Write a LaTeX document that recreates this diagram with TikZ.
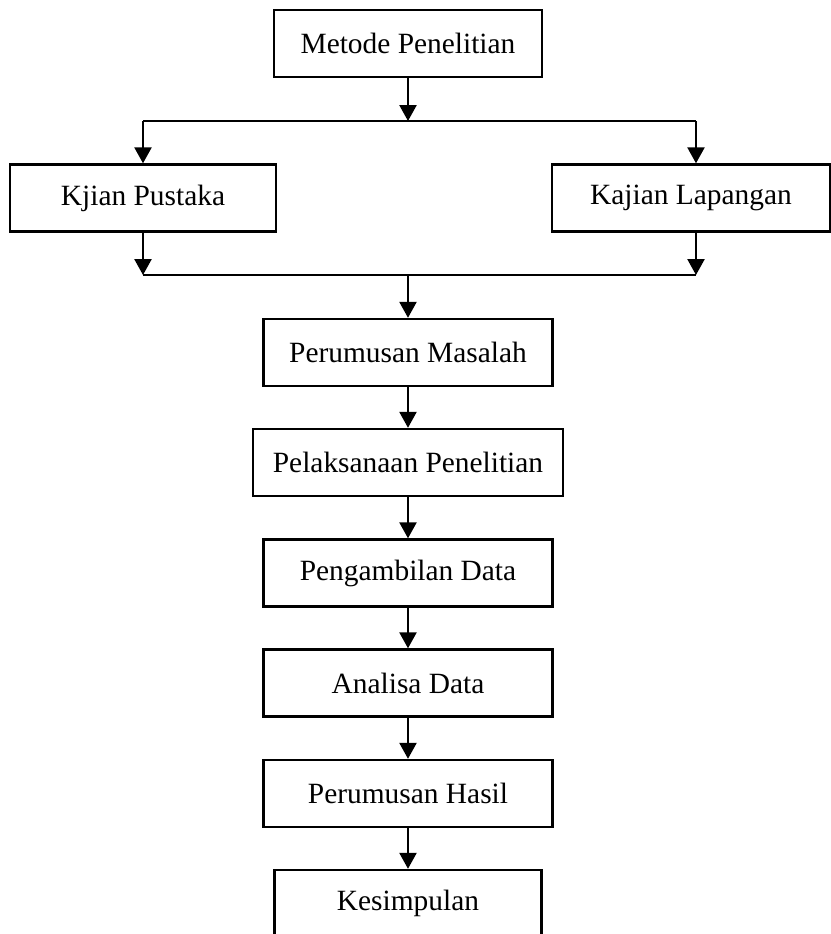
\documentclass[tikz,border=0pt]{standalone}
\usepackage{fontspec}
\setmainfont{Liberation Serif}
\usetikzlibrary{arrows.meta}
\tikzset{
	box/.style={draw, line width=1.2pt, minimum height=33.5pt, inner sep=0pt, font=\fontsize{14.7}{17}\selectfont},
	arr/.style={-{Triangle[length=8pt,width=8.5pt]}, line width=1.2pt}
}
\begin{document}
\begin{tikzpicture}[x=0.5pt,y=-0.5pt]
	\useasboundingbox (0,0) rectangle (831,934);
	\clip (0,0) rectangle (831,934);
	\node[box, minimum width=134pt] (metode) at (408,43.5) {Metode Penelitian};
	\node[box, minimum width=133pt] (kjian) at (143,198) {Kjian Pustaka};
	\node[box, minimum width=139pt] (kajian) at (691,198) {Kajian Lapangan};
	\node[box, minimum width=144.5pt] (masalah) at (408,352.5) {Perumusan Masalah};
	\node[box, minimum width=155pt] (pelaksanaan) at (408,462.5) {Pelaksanaan Penelitian};
	\node[box, minimum width=144.5pt] (pengambilan) at (408,573) {Pengambilan Data};
	\node[box, minimum width=144.5pt] (analisa) at (408,683) {Analisa Data};
	\node[box, minimum width=144.5pt] (hasil) at (408,793.5) {Perumusan Hasil};
	\node[box, minimum width=133.5pt] (kesimpulan) at (408,903.5) {Kesimpulan};
	% percabangan atas
	\coordinate (top) at (408,121);
	\coordinate (topl) at (143,121);
	\coordinate (topr) at (696,121);
	\draw[arr] (metode.south -| top) -- (top);
	\draw[line width=1.2pt] (topl) -- (topr);
	\draw[arr] (topl) -- (topl |- kjian.north);
	\draw[arr] (topr) -- (topr |- kajian.north);
	% penggabungan bawah
	\coordinate (bot) at (408,275);
	\coordinate (botl) at (143,275);
	\coordinate (botr) at (696,275);
	\draw[arr] (kjian.south -| botl) -- (botl);
	\draw[arr] (kajian.south -| botr) -- (botr);
	\draw[line width=1.2pt] (botl) -- (botr);
	\draw[arr] (bot) -- (bot |- masalah.north);
	% alur utama
	\draw[arr] (masalah) -- (pelaksanaan);
	\draw[arr] (pelaksanaan) -- (pengambilan);
	\draw[arr] (pengambilan) -- (analisa);
	\draw[arr] (analisa) -- (hasil);
	\draw[arr] (hasil) -- (kesimpulan);
\end{tikzpicture}
\end{document}
